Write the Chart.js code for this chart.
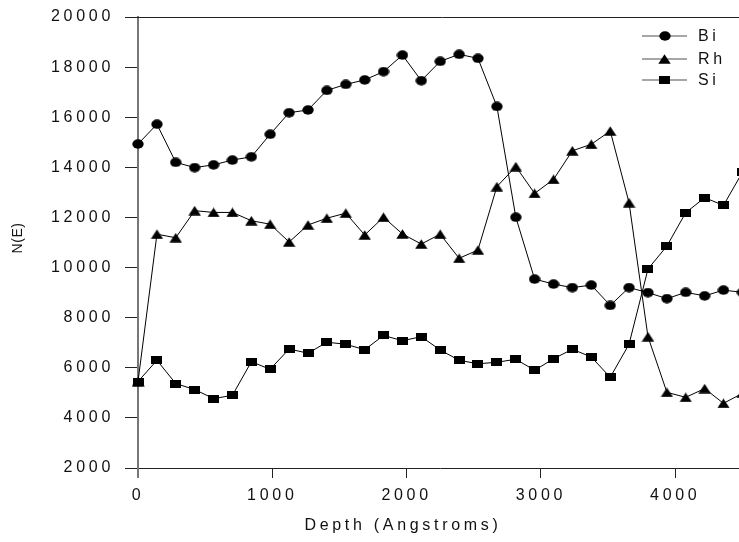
<!DOCTYPE html>
<html>
<head>
<meta charset="utf-8">
<script src="https://cdn.jsdelivr.net/npm/chart.js@4/dist/chart.umd.min.js"></script>
<style>
  html, body { margin: 0; padding: 0; background: #fff; overflow: hidden; }
  #wrap { width: 760px; height: 542px; }
</style>
</head>
<body>
<div id="wrap"><canvas id="c" width="760" height="542"></canvas></div>
<script>
const depth = [0,141,281,422,563,703,844,984,1125,1266,1406,1547,1688,1828,1969,2109,2250,2391,2531,2672,2813,2953,3094,3234,3375,3516,3656,3797,3938,4078,4219,4359,4500];
const bi = [14930,15720,14200,13990,14100,14290,14420,15320,16180,16290,17070,17310,17490,17820,18480,17460,18230,18510,18350,16430,12010,9540,9340,9200,9300,8490,9200,9000,8760,9010,8870,9100,9010];
const rh = [5450,11330,11190,12270,12200,12200,11870,11730,11020,11700,11970,12170,11300,12010,11340,10940,11330,10370,10700,13230,14030,12960,13520,14660,14920,15450,12590,7240,5020,4820,5170,4580,4980];
const si = [5450,6300,5370,5130,4770,4900,6240,5940,6750,6580,7020,6940,6720,7290,7080,7240,6710,6300,6160,6220,6340,5900,6360,6740,6430,5620,6940,9940,10860,12190,12790,12480,13800];
const seriesNames = ['Bi', 'Rh', 'Si'];
const xTicks = [0, 1000, 2000, 3000, 4000];
const yTicks = [2000, 4000, 6000, 8000, 10000, 12000, 14000, 16000, 18000, 20000];
const xTitle = 'Depth (Angstroms)';
const yTitle = 'N(E)';

function makeMarker(kind) {
  const c = document.createElement('canvas');
  const w = kind === 'circle' ? 12 : (kind === 'triangle' ? 13 : 11);
  const h = kind === 'circle' ? 10 : (kind === 'triangle' ? 10 : 8);
  c.width = w; c.height = h;
  const g = c.getContext('2d');
  g.fillStyle = '#000';
  g.beginPath();
  if (kind === 'circle') {
    g.ellipse(w / 2, h / 2, w / 2 - 0.3, h / 2 - 0.3, 0, 0, Math.PI * 2);
  } else if (kind === 'triangle') {
    g.moveTo(w / 2, 0.3); g.lineTo(w - 0.3, h - 0.3); g.lineTo(0.3, h - 0.3); g.closePath();
  } else {
    g.rect(0, 0, w, h);
  }
  g.fill();
  return c;
}
const markers = [makeMarker('circle'), makeMarker('triangle'), makeMarker('square')];

function pts(arr) { return arr.map((v, i) => ({ x: depth[i], y: v })); }

const FONT = '"Liberation Sans", Arial, sans-serif';
const SPACING = '3.7px';

const deco = {
  id: 'deco',
  beforeDraw(chart) { chart.ctx.letterSpacing = SPACING; },
  afterDraw(chart) {
    const ctx = chart.ctx;
    const a = chart.chartArea;
    ctx.save();
    ctx.strokeStyle = '#222';
    ctx.lineWidth = 1;
    ctx.beginPath();
    ctx.moveTo(a.left - 13, Math.round(a.top) + 0.5);
    ctx.lineTo(chart.width, Math.round(a.top) + 0.5);
    ctx.stroke();
    const lx0 = 642, lx1 = 687, tx = 698;
    const rows = [36, 59, 80];
    ctx.font = '16px ' + FONT;
    ctx.letterSpacing = SPACING;
    ctx.textAlign = 'left';
    ctx.textBaseline = 'middle';
    chart.data.datasets.forEach((ds, i) => {
      const y = rows[i];
      ctx.strokeStyle = '#888';
      ctx.lineWidth = 1.5;
      ctx.beginPath(); ctx.moveTo(lx0, y); ctx.lineTo(lx1, y); ctx.stroke();
      const m = markers[i];
      ctx.drawImage(m, Math.round((lx0 + lx1) / 2 - m.width / 2), Math.round(y - m.height / 2));
      ctx.fillStyle = '#111';
      ctx.fillText(ds.label, tx, y + 1);
    });
    ctx.font = '16px ' + FONT;
    ctx.letterSpacing = SPACING;
    ctx.textAlign = 'center';
    ctx.textBaseline = 'middle';
    ctx.fillStyle = '#111';
    ctx.fillText(xTitle, 403, 526);
    ctx.translate(18, 238);
    ctx.rotate(-Math.PI / 2);
    ctx.font = '14px ' + FONT;
    ctx.letterSpacing = '0.5px';
    ctx.fillText(yTitle, 0, 0);
    ctx.restore();
  }
};

const common = { borderColor: '#000', borderWidth: 1, tension: 0, clip: false, pointRadius: 5, pointHoverRadius: 5 };

new Chart(document.getElementById('c'), {
  type: 'line',
  data: {
    datasets: [
      Object.assign({ label: seriesNames[0], data: pts(bi), pointStyle: markers[0] }, common),
      Object.assign({ label: seriesNames[1], data: pts(rh), pointStyle: markers[1] }, common),
      Object.assign({ label: seriesNames[2], data: pts(si), pointStyle: markers[2] }, common)
    ]
  },
  options: {
    responsive: false,
    animation: false,
    events: [],
    layout: { padding: { left: 0, right: 17.6, top: 17, bottom: 0 } },
    plugins: { legend: { display: false }, tooltip: { enabled: false } },
    scales: {
      x: {
        type: 'linear',
        min: 0, max: 4500,
        afterBuildTicks: s => { s.ticks = xTicks.map(v => ({ value: v })); },
        afterFit: s => { s.height = 74; s.paddingLeft = 0; s.paddingRight = 0; },
        ticks: {
          includeBounds: false,
          maxRotation: 0,
          padding: 8,
          color: '#111',
          font: { family: FONT, size: 16 },
          callback: v => String(v)
        },
        grid: {
          drawOnChartArea: false, drawTicks: true, tickLength: 10,
          color: c => (c.tick && c.tick.value === 0) ? '#777' : '#222',
          lineWidth: c => (c.tick && c.tick.value === 0) ? 2 : 1
        },
        border: { display: true, color: '#222', width: 1 }
      },
      y: {
        type: 'linear',
        min: 2000, max: 20000,
        afterBuildTicks: s => { s.ticks = yTicks.map(v => ({ value: v })); },
        afterFit: s => { s.width = 138; s.paddingTop = 0; s.paddingBottom = 0; },
        ticks: {
          padding: 11,
          color: '#111',
          font: { family: FONT, size: 16 },
          callback: v => String(v)
        },
        grid: { drawOnChartArea: false, drawTicks: true, tickLength: 13, color: '#222', lineWidth: 1 },
        border: { display: true, color: '#777', width: 2 }
      }
    }
  },
  plugins: [deco]
});
</script>
</body>
</html>
